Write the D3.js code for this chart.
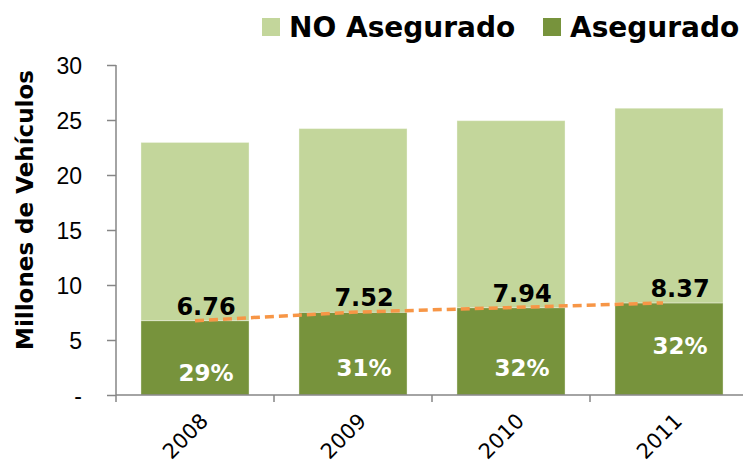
<!DOCTYPE html>
<html>
<head>
<meta charset="utf-8">
<script src="https://cdn.jsdelivr.net/npm/d3@7"></script>
<style>
  body { margin: 0; background: #fff; }
  svg { display: block; font-family: "DejaVu Sans", sans-serif; }
</style>
</head>
<body>
<div id="chart"></div>
<script>
// data
var years = ["2008", "2009", "2010", "2011"];
var asegurado = [6.76, 7.52, 7.94, 8.37];
var noAsegurado = [16.2, 16.7, 17.0, 17.7];
var pctAsegurado = ["29%", "31%", "32%", "32%"];
var yTicks = [0, 5, 10, 15, 20, 25, 30];
var yTickLabels = ["-", "5", "10", "15", "20", "25", "30"];
var seriesNames = ["NO Asegurado", "Asegurado"];

var W = 743, H = 464;
var LIGHT = "#c3d69b", DARK = "#77933c", ORANGE = "#f79646", AXIS = "#868686";

var svg = d3.select("#chart").append("svg")
    .attr("width", W)
    .attr("height", H);

var x = d3.scaleBand()
    .domain(years)
    .range([116, 748])
    .paddingInner(0.316)
    .paddingOuter(0.158);

var y = d3.scaleLinear()
    .domain([0, 30])
    .range([395, 65]);

// stacked data: asegurado at the bottom, NO asegurado on top
var rows = years.map(function(yr, i) {
    return { year: yr, aseg: asegurado[i], noaseg: noAsegurado[i] };
});
var stack = d3.stack().keys(["aseg", "noaseg"])(rows);
var colors = { aseg: DARK, noaseg: LIGHT };

svg.append("g").attr("id", "bars")
    .selectAll("g")
    .data(stack)
    .enter()
    .append("g")
    .attr("fill", function(d) { return colors[d.key]; })
    .selectAll("rect")
    .data(function(d) { return d; })
    .enter()
    .append("rect")
    .attr("x", function(d) { return x(d.data.year); })
    .attr("width", x.bandwidth())
    .attr("y", function(d) { return y(d[1]); })
    .attr("height", function(d) { return y(d[0]) - y(d[1]); })
    .attr("stroke", "#fff")
    .attr("stroke-opacity", 0.35)
    .attr("stroke-width", 1);

// y axis
var yAxis = d3.axisLeft(y)
    .tickValues(yTicks)
    .tickFormat(function(d, i) { return yTickLabels[i]; })
    .tickSizeInner(9)
    .tickSizeOuter(0)
    .tickPadding(25);

var gy = svg.append("g")
    .attr("transform", "translate(116,0)")
    .call(yAxis);
gy.select(".domain").remove();
gy.selectAll(".tick line").attr("stroke", AXIS).attr("stroke-width", 1.5);
gy.selectAll(".tick text")
    .attr("fill", "#000")
    .style("font-size", "23px")
    .attr("dy", "0.36em");
gy.append("line")
    .attr("x1", 0).attr("x2", 0)
    .attr("y1", y(30)).attr("y2", y(0) + 7)
    .attr("stroke", AXIS).attr("stroke-width", 1.5);

// x axis line and ticks at the band edges
var gx = svg.append("g");
gx.append("line")
    .attr("x1", 116).attr("x2", 748)
    .attr("y1", y(0)).attr("y2", y(0))
    .attr("stroke", AXIS).attr("stroke-width", 1.5);
gx.selectAll("line.tk")
    .data(years)
    .enter()
    .append("line")
    .attr("class", "tk")
    .attr("x1", function(d) { return x(d) + x.bandwidth() + (x.step() - x.bandwidth()) / 2; })
    .attr("x2", function(d) { return x(d) + x.bandwidth() + (x.step() - x.bandwidth()) / 2; })
    .attr("y1", y(0)).attr("y2", y(0) + 7)
    .attr("stroke", AXIS).attr("stroke-width", 1.5);
gx.selectAll("text")
    .data(years)
    .enter()
    .append("text")
    .attr("transform", function(d) {
        return "translate(" + (x(d) + x.bandwidth() / 2 + 4) + "," + (y(0) + 17) + ") rotate(-45)";
    })
    .attr("text-anchor", "end")
    .attr("dy", "0.7em")
    .style("font-size", "21px")
    .text(function(d) { return d; });

// dashed trend line through asegurado tops
var line = d3.line()
    .x(function(d, i) { return x(years[i]) + x.bandwidth() / 2 - i * 2; })
    .y(function(d) { return y(d); });
svg.append("path")
    .datum(asegurado)
    .attr("d", line)
    .attr("fill", "none")
    .attr("stroke", ORANGE)
    .attr("stroke-width", 3.5)
    .attr("stroke-dasharray", "9,5");

// value labels
svg.append("g").selectAll("text")
    .data(asegurado)
    .enter()
    .append("text")
    .attr("x", function(d, i) { return x(years[i]) + x.bandwidth() / 2 + 11; })
    .attr("y", function(d) { return y(d) - 6; })
    .attr("text-anchor", "middle")
    .style("font-size", "24px")
    .style("font-weight", "bold")
    .text(function(d) { return d.toFixed(2); });

// percent labels
var pctLift = [0, 5, 5, 27];
svg.append("g").selectAll("text")
    .data(pctAsegurado)
    .enter()
    .append("text")
    .attr("x", function(d, i) { return x(years[i]) + x.bandwidth() / 2 + 11; })
    .attr("y", function(d, i) { return y(0) - 14 - pctLift[i]; })
    .attr("text-anchor", "middle")
    .attr("fill", "#fff")
    .style("font-size", "23px")
    .style("font-weight", "bold")
    .text(function(d) { return d; });

// y title
svg.append("text")
    .attr("transform", "translate(33,210) rotate(-90)")
    .attr("text-anchor", "middle")
    .style("font-size", "23px")
    .style("font-weight", "bold")
    .text("Millones de Vehículos");

// legend
var legendX = [262, 543];
var legendColors = [LIGHT, DARK];
var lg = svg.append("g").selectAll("g")
    .data(seriesNames)
    .enter()
    .append("g")
    .attr("transform", function(d, i) { return "translate(" + legendX[i] + ",18)"; });
lg.append("rect")
    .attr("width", 18).attr("height", 18)
    .attr("fill", function(d, i) { return legendColors[i]; });
lg.append("text")
    .attr("x", 27)
    .attr("y", 19)
    .style("font-size", "28px")
    .style("font-weight", "bold")
    .text(function(d) { return d; });
</script>
</body>
</html>
